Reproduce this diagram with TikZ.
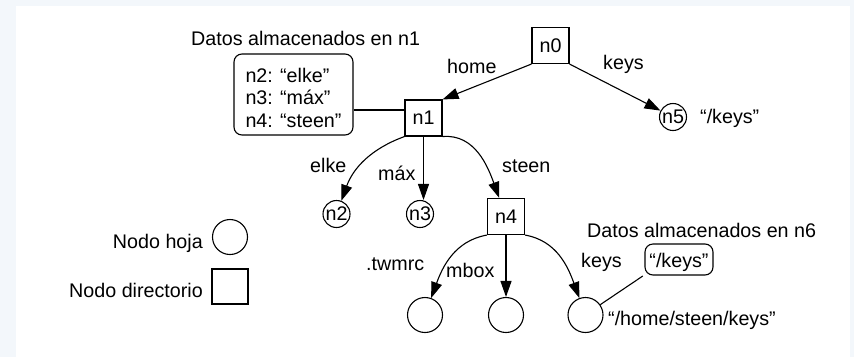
\documentclass[tikz,border=0pt]{standalone}
\usepackage{fontspec}
\setmainfont{Liberation Sans}
\usetikzlibrary{arrows.meta}
\definecolor{framecol}{HTML}{F3F7FB}
\begin{document}
\begin{tikzpicture}[x=1pt,y=1pt,
  every node/.style={font=\fontsize{19.7}{22.5}\selectfont},
  dirbox/.style={draw, line width=1.1pt, minimum width=37pt, minimum height=36pt, inner sep=0pt},
  leafsm/.style={draw, circle, line width=1.1pt, minimum size=27pt, inner sep=0pt},
  leafbig/.style={draw, circle, line width=1.1pt, minimum size=35pt, inner sep=0pt},
  lbl/.style={inner sep=0pt, anchor=base west},
  lblr/.style={inner sep=0pt, anchor=base east},
  databox/.style={draw, rounded corners=8pt, line width=1.1pt, inner sep=0pt},
  edgearrow/.style={line width=1.1pt, -{Triangle[length=16pt,width=11pt]}},
  linkline/.style={line width=1.1pt}]
\useasboundingbox (0,0) rectangle (854,-357);
\fill[framecol] (0,0) rectangle (854,-357);
\fill[white] (16,-6) rectangle (850,-357);

% directory nodes
\node[dirbox] (n0) at (550.5,-45.5) {n0};
\node[dirbox] (n1) at (423.5,-118) {n1};
\node[dirbox] (n4) at (506,-216.5) {n4};
% leaf nodes
\node[leafsm] (n2) at (336.5,-214) {n2};
\node[leafsm] (n3) at (420,-214) {n3};
\node[leafsm] (n5) at (673,-117) {n5};
\node[leafbig] (l1) at (425,-315) {};
\node[leafbig] (l2) at (506,-315) {};
\node[leafbig] (n6) at (585.5,-315) {};
% legend
\node[leafbig] (lh) at (230,-237) {};
\node[dirbox, minimum width=36pt, minimum height=35pt] (ld) at (230,-286.5) {};
\node[lblr] (tlh) at (203,-248) {Nodo hoja};
\node[lblr] (tld) at (203,-297) {Nodo directorio};

% data boxes
\node[databox, align=left, minimum width=119pt, minimum height=81pt] (d1) at (293.5,-94.5)
  {\rule{0pt}{21pt}n2: “elke”\\n3: “máx”\\n4: “steen”};
\node[lbl] (t1) at (191,-45) {Datos almacenados en n1};
\node[databox, minimum width=68pt, minimum height=31pt, text height=15pt, text depth=0pt] (dk) at (679,-259.5) {“/keys”};
\node[lbl] (t6) at (587,-237) {Datos almacenados en n6};

% labels
\node[lbl] (lhome) at (447,-73) {home};
\node[lbl] (lkeys) at (603,-69) {keys};
\node[lbl] (lk5) at (700,-123) {“/keys”};
\node[lbl] (lelke) at (310,-172) {elke};
\node[lbl] (lmax) at (378,-180) {máx};
\node[lbl] (lsteen) at (502,-172) {steen};
\node[lbl] (ltw) at (366,-270) {.twmrc};
\node[lbl] (lmb) at (446,-277) {mbox};
\node[lbl] (lk6) at (581,-267) {keys};
\node[lbl] (lpath) at (608,-325) {“/home/steen/keys”};

% connectors
\draw[edgearrow] (n0.south west) -- (n1.north east);
\draw[edgearrow] (n0.south east) -- (n5);
\draw[edgearrow] (n1.south west) to[out=200,in=70] (n2);
\draw[edgearrow] (n1.south) -- (n1.south |- n3.north);
\draw[edgearrow] (n1.south east) to[out=5,in=110] (n4);
\draw[edgearrow] (n4.south west) to[out=190,in=70] (l1);
\draw[edgearrow] (n4.south) -- (l2.north);
\draw[edgearrow] (n4.south east) to[out=-10,in=110] (n6);
\draw[linkline] ([yshift=-15.5pt]d1.east) -- ([yshift=8pt]n1.west);
\draw[linkline, shorten >=2pt] (n6.35) -- (dk.204);
\end{tikzpicture}
\end{document}
